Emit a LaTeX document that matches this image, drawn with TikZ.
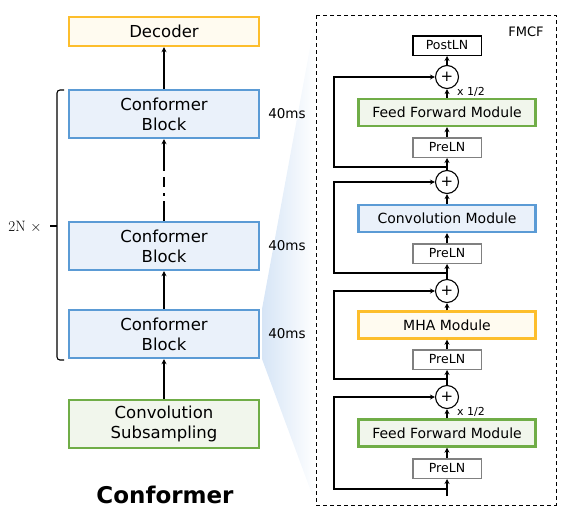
\documentclass[tikz,border=0pt]{standalone}
\usepackage{fontspec}
\setmainfont{DejaVu Sans}
\usetikzlibrary{arrows.meta}

\definecolor{blueedge}{HTML}{5B9BD5}
\definecolor{bluefill}{HTML}{EAF1FA}
\definecolor{greenedge}{HTML}{70AD47}
\definecolor{greenfill}{HTML}{F1F6EC}
\definecolor{orangeedge}{HTML}{FDBE2C}
\definecolor{orangefill}{HTML}{FFFBF0}
\definecolor{grayedge}{HTML}{808080}
\definecolor{fanblue}{HTML}{D6E5F6}

\begin{document}
\begin{tikzpicture}[x=1pt,y=-1pt,
    blk/.style={draw=blueedge,fill=bluefill,line width=2.4pt,minimum width=190pt,
      minimum height=48pt,align=center,font=\fontsize{16.5}{20}\selectfont},
    decbox/.style={blk,draw=orangeedge,fill=orangefill,minimum height=29pt},
    subbox/.style={blk,draw=greenedge,fill=greenfill},
    module/.style={draw=#1edge,fill=#1fill,line width=2.4pt,minimum width=177pt,
      minimum height=27pt,font=\fontsize{14}{16}\selectfont},
    lnbox/.style={draw=grayedge,line width=1.5pt,minimum width=68.5pt,
      minimum height=19.5pt,inner sep=0pt,font=\fontsize{12.5}{14}\selectfont},
    plus/.style={draw,circle,line width=1.1pt,minimum size=23pt,inner sep=0pt,
      font=\fontsize{15}{15}\selectfont},
    lbl/.style={font=\fontsize{13.5}{15}\selectfont},
    arr/.style={-{Stealth[length=5pt,width=5pt]},line width=1.1pt}]
  \useasboundingbox (0,0) rectangle (572,520);

  % fan from the block to the FMCF frame
  \shade[left color=fanblue,right color=white] (262,309) -- (316,15) -- (316,505) -- (262,359) -- cycle;

  % left column
  \node[decbox] (dec) at (164,31.5) {Decoder};
  \node[blk] (cb3) at (164,114) {Conformer\\Block};
  \node[blk] (cb2) at (164,246) {Conformer\\Block};
  \node[blk] (cb1) at (164,334) {Conformer\\Block};
  \node[subbox] (sub) at (164,424) {Convolution\\Subsampling};
  \node[font=\fontsize{23}{26}\selectfont\bfseries] (title) at (165,495) {Conformer};
  \foreach \y/\n in {114/t3, 246/t2, 334/t1} {
    \node[lbl] (\n) at (287,\y) {40ms};
  }

  \draw[arr] (sub) -- (cb1);
  \draw[arr] (cb1) -- (cb2);
  \draw[arr,dash pattern=on 20pt off 5pt on 3pt off 6pt on 10pt off 6pt on 40pt] (cb2) -- (cb3);
  \draw[arr] (cb3) -- (dec);

  % repeat bracket
  \draw[line width=1.1pt,rounded corners=3pt] (64,90) -- (57,90) -- (57,360) -- (64,360);
  \coordinate (tick) at (57,226);
  \draw[line width=1.1pt] (tick) -- ++(-7,0);
  \node[font=\fontsize{15}{17}\fontfamily{lmr}\selectfont] (rep) at (25,227) {2N $\times$};

  % FMCF frame
  \draw[line width=1pt,dash pattern=on 4pt off 3pt] (316,15) rectangle (556,505);
  \node[lbl,font=\fontsize{13}{15}\selectfont] (fmcf) at (526,32) {FMCF};

  % right column
  \node[lnbox,draw=black] (post) at (447,45.5) {PostLN};
  \node[plus] (p1) at (447,77) {+};
  \node[module=green] (ff1) at (447,112.5) {Feed Forward Module};
  \node[lnbox] (pre1) at (447,147.5) {PreLN};
  \node[plus] (p2) at (447,182) {+};
  \node[module=blue] (conv) at (447,218.5) {Convolution Module};
  \node[lnbox] (pre2) at (447,253.5) {PreLN};
  \node[plus] (p3) at (447,291) {+};
  \node[module=orange] (mha) at (447,325) {MHA Module};
  \node[lnbox] (pre3) at (447,359.5) {PreLN};
  \node[plus] (p4) at (447,397) {+};
  \node[module=green] (ff2) at (447,433) {Feed Forward Module};
  \node[lnbox] (pre4) at (447,468.5) {PreLN};
  \node[font=\fontsize{11}{12}\selectfont] (h1) at (471,92) {x 1/2};
  \node[font=\fontsize{11}{12}\selectfont] (h2) at (471,412) {x 1/2};

  \coordinate (in) at (447,496);
  \coordinate (skip) at (334,0);
  \coordinate (s1) at (447,167);
  \coordinate (s2) at (447,273);
  \coordinate (s3) at (447,379);
  \coordinate (s4) at (447,489);

  \draw[arr] (in) -- (pre4);
  \foreach \a/\b in {pre4/ff2, ff2/p4, p4/pre3, pre3/mha, mha/p3, p3/pre2,
                     pre2/conv, conv/p2, p2/pre1, pre1/ff1, ff1/p1, p1/post} {
    \draw[arr] (\a) -- (\b);
  }
  \foreach \s/\p in {s1/p1, s2/p2, s3/p3, s4/p4} {
    \draw[arr] (\s) -- (\s -| skip) |- (\p);
  }
\end{tikzpicture}
\end{document}
